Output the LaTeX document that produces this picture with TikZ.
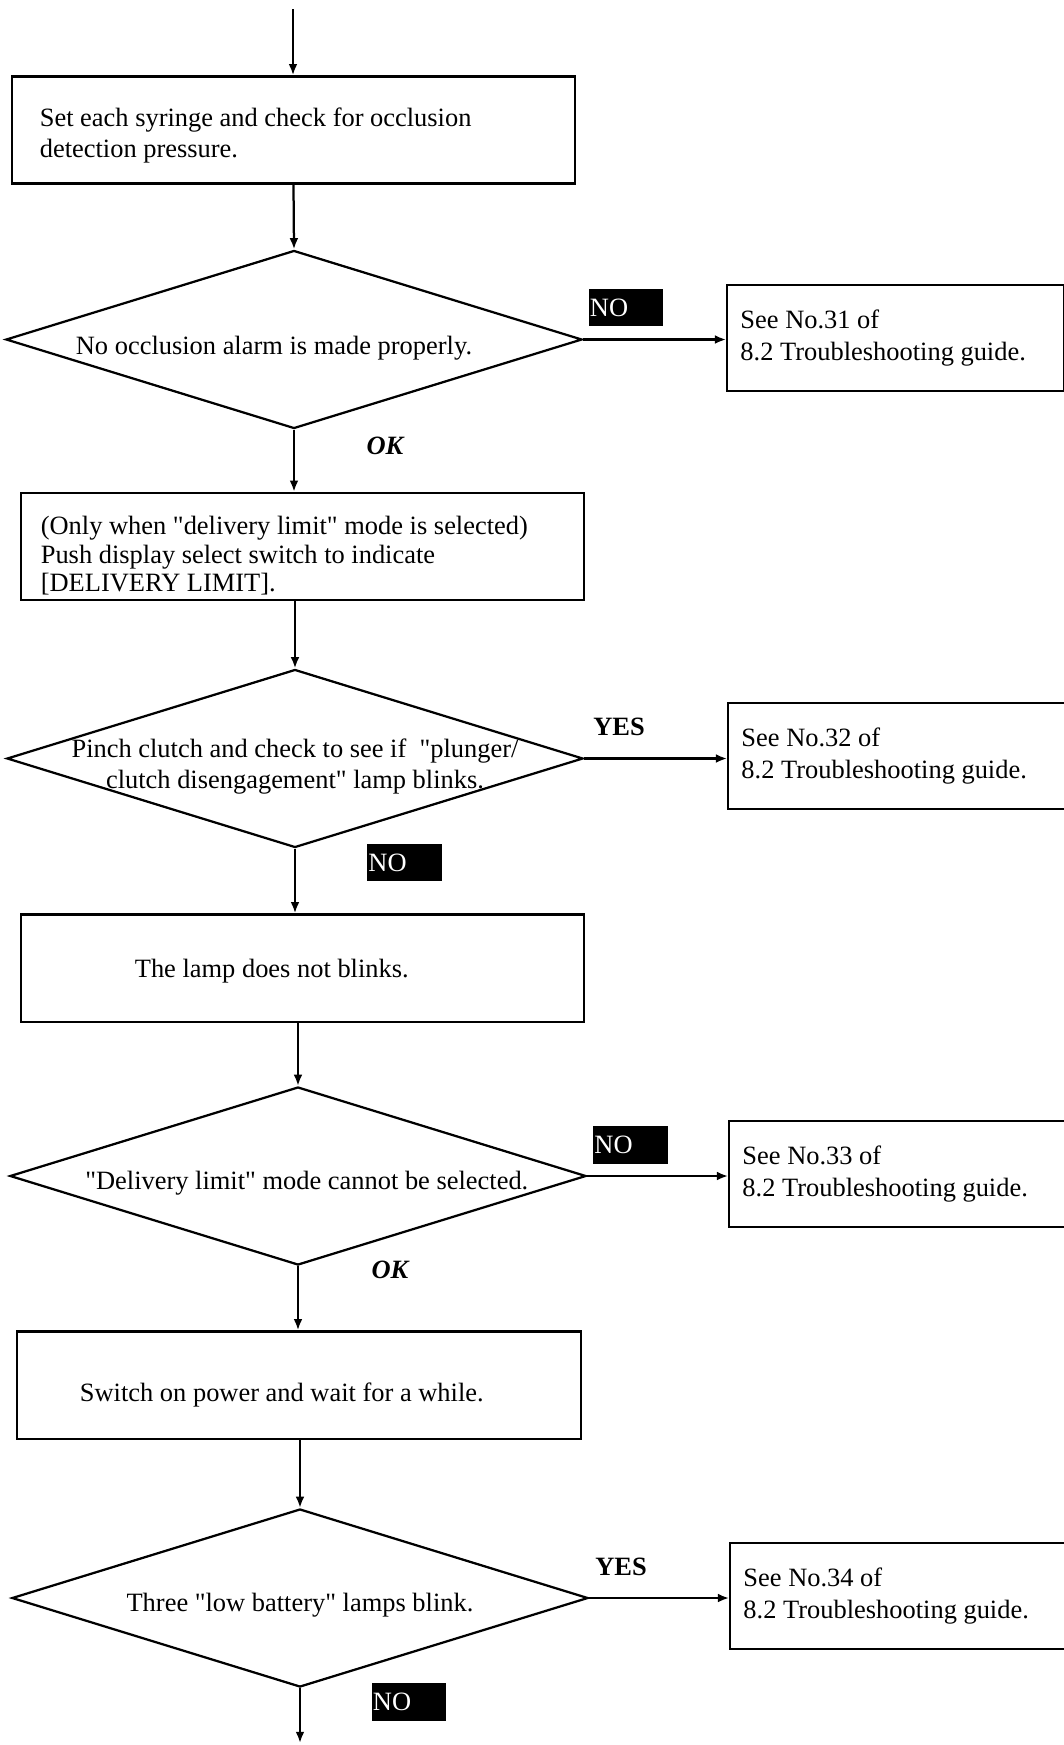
\documentclass[tikz,border=0pt]{standalone}
\usepackage{fontspec}
\setmainfont{Liberation Serif}[Ligatures=TeXOff]
\usetikzlibrary{arrows.meta, shapes.geometric}

\begin{document}
\begin{tikzpicture}[x=0.025cm, y=-0.025cm,
  every node/.style={font=\fontsize{18.8}{22.5}\selectfont},
  procbox/.style={draw, rectangle, line width=1.6pt, minimum height=2.68cm, align=flush left, inner ysep=0pt},
  refbox/.style={draw, rectangle, line width=1.6pt, minimum height=2.65cm, text width=7.75cm, inner xsep=0.33cm, align=flush left},
  decision/.style={draw, diamond, line width=1.6pt, minimum width=14.4cm, minimum height=4.45cm, inner sep=0pt},
  nobadge/.style={fill=black, text=white, text width=1.8cm, inner xsep=1pt, minimum height=0.93cm, align=flush left},
  yesno/.style={font=\fontsize{18.8}{22.5}\selectfont\bfseries},
  okay/.style={font=\fontsize{18.8}{22.5}\selectfont\bfseries\itshape},
  flow/.style={line width=1.6pt, -{Latex[length=0.28cm, width=0.22cm]}}]
\useasboundingbox (0,0) rectangle (1064,1745);

\coordinate (start) at (293,9);
\node[procbox, text width=12.68cm, inner xsep=0.7cm] (b1) at (293.5,130) {\rule{0pt}{21pt}Set each syringe and check for occlusion\\detection pressure.};
\node[decision, label={[xshift=-0.5cm, yshift=-0.22cm]center:No occlusion alarm is made properly.}] (d1) at (294,339.5) {};
\node[refbox] (r1) at (895.5,338) {See No.31 of\\8.2 Troubleshooting guide.};
\node[nobadge] (no1) at (626,307.5) {NO};
\node[okay] (ok1) at (385,446) {OK};

\node[procbox, text width=13.08cm, inner xsep=0.5cm, font=\fontsize{18.8}{20}\selectfont] (b2) at (302.5,546.5) {\rule{0pt}{26pt}(Only when "delivery limit" mode is selected)\\Push display select switch to indicate\\{[}DELIVERY LIMIT{]}.};
\node[decision, label={[align=center, yshift=-0.2cm]center:Pinch clutch and check to see if \ "plunger/\\clutch disengagement" lamp blinks.}] (d2) at (295,758.5) {};
\node[refbox] (r2) at (896.5,756) {See No.32 of\\8.2 Troubleshooting guide.};
\node[yesno] (yes2) at (619,727) {YES};
\node[nobadge] (no2) at (404.5,862.5) {NO};

\node[procbox, text width=8.38cm, inner xsep=2.85cm] (b3) at (302.5,968) {\rule{0pt}{18pt}The lamp does not blinks.};
\node[decision, label={[xshift=0.22cm, yshift=-0.17cm]center:"Delivery limit" mode cannot be selected.}] (d3) at (298,1176) {};
\node[refbox] (r3) at (897.5,1174) {See No.33 of\\8.2 Troubleshooting guide.};
\node[nobadge] (no3) at (630.5,1145) {NO};
\node[okay] (ok3) at (390,1270) {OK};

\node[procbox, text width=10.95cm, inner xsep=1.58cm] (b4) at (299,1385) {\rule{0pt}{27pt}Switch on power and wait for a while.};
\node[decision, label={[yshift=-0.18cm]center:Three "low battery" lamps blink.}] (d4) at (300,1598) {};
\node[refbox] (r4) at (898.5,1596) {See No.34 of\\8.2 Troubleshooting guide.};
\node[yesno] (yes4) at (621,1567) {YES};
\node[nobadge] (no4) at (409,1702) {NO};
\coordinate (end) at (300,1743);

\draw[flow] (start) -- (start |- b1.north);
\draw[flow] (b1.south) -- (d1.north);
\draw[flow] (d1.east) -- (d1.east -| r1.west);
\draw[flow] (d1.south) -- (d1.south |- b2.north);
\draw[flow] (d2.north |- b2.south) -- (d2.north);
\draw[flow] (d2.east) -- (d2.east -| r2.west);
\draw[flow] (d2.south) -- (d2.south |- b3.north);
\draw[flow] (d3.north |- b3.south) -- (d3.north);
\draw[flow] (d3.east) -- (d3.east -| r3.west);
\draw[flow] (d3.south) -- (d3.south |- b4.north);
\draw[flow] (d4.north |- b4.south) -- (d4.north);
\draw[flow] (d4.east) -- (d4.east -| r4.west);
\draw[flow] (d4.south) -- (end);
\end{tikzpicture}
\end{document}
